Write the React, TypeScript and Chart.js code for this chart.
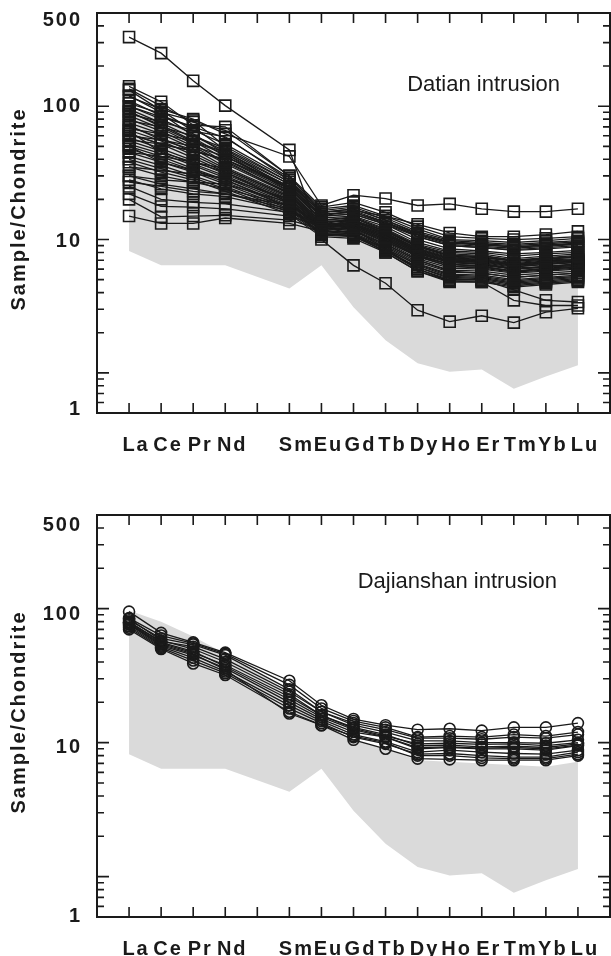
import React, { useEffect, useRef } from 'react';
import { Chart, registerables } from 'chart.js';

Chart.register(...registerables);

// ---------- categories & axis labels ----------
const ELEMENTS = ['La', 'Ce', 'Pr', 'Nd', 'Pm', 'Sm', 'Eu', 'Gd', 'Tb', 'Dy', 'Ho', 'Er', 'Tm', 'Yb', 'Lu'];
const X_LABELS = ['La', 'Ce', 'Pr', 'Nd', '', 'Sm', 'Eu', 'Gd', 'Tb', 'Dy', 'Ho', 'Er', 'Tm', 'Yb', 'Lu'];
const PLOTTED = ['La', 'Ce', 'Pr', 'Nd', 'Sm', 'Eu', 'Gd', 'Tb', 'Dy', 'Ho', 'Er', 'Tm', 'Yb', 'Lu'];
const Y_LABELS = ['500', '100', '10', '1'];
const Y_LABEL_VALUES = [500, 100, 10, 1];
const Y_MAJOR_TICKS = [1, 10, 100];
const Y_MINOR_TICKS = [0.6, 0.7, 0.8, 0.9, 2, 3, 4, 5, 6, 7, 8, 9, 20, 30, 40, 50, 60, 70, 80, 90, 200, 300, 400];
const Y_TITLE = 'Sample/Chondrite';

// ---------- grey reference field (La..Lu, no Pm) ----------
const FIELD_UPPER = [97, 80, 62, 46, 24, 14, 10.5, 9, 7.4, 7.2, 7.0, 6.8, 6.6, 7.2];
const FIELD_LOWER = [8.2, 6.4, 6.4, 6.4, 4.3, 6.4, 3.1, 1.76, 1.18, 1.02, 1.06, 0.76, 0.94, 1.14];

// ---------- Datian intrusion samples (La..Lu) ----------
const DT01 = [330, 250, 155, 101, 47, 10, 6.4, 4.7, 2.95, 2.42, 2.68, 2.38, 2.85, 3.05];
const DT02 = [118, 95, 80, 62, 42, 18, 21.5, 20.3, 18, 18.5, 17, 16.2, 16.2, 17];
const DT03 = [62, 52, 46, 40, 25, 15, 16.5, 15, 13, 11.2, 10.5, 10.5, 10.9, 11.5];
const DT04 = [15, 13.2, 13.2, 14.5, 13.2, 11.5, 12.5, 10, 7.5, 6.5, 6.3, 5.8, 6, 6.2];
const DT05 = [20, 14.8, 15, 15.2, 14, 12, 13, 10.5, 8, 6.8, 6.6, 6, 6.2, 6.4];
const DT06 = [22, 17.7, 17.5, 17, 15, 12.5, 14, 11, 8.5, 7.2, 7, 6.5, 6.8, 7];
const DT07 = [25, 20, 19, 18.5, 16, 13, 14.5, 11.5, 9, 7.6, 7.5, 7, 7.2, 7.5];
const DT08 = [30, 26, 24, 22, 18, 13, 12, 8.5, 6, 5, 5, 4.2, 3.5, 3.4];
const DT09 = [35, 30, 27, 24, 18, 12.5, 11, 8, 5.8, 4.9, 4.8, 3.5, 3.2, 3.2];
const DT10 = [141, 108, 72, 70, 30, 16, 17, 14, 11, 9.5, 9.2, 8.8, 9, 9.3];
const DT11 = [132, 93, 65, 59, 28, 15.5, 16, 13.5, 10.5, 9, 8.7, 8.3, 8.5, 8.8];
const DT12 = [120, 90, 78, 50, 27, 15, 15.5, 13, 10, 8.5, 8.2, 7.8, 8, 8.3];
const DT13 = [110, 85, 70, 47, 26, 14.5, 15, 12.5, 9.5, 8.2, 8, 7.5, 7.8, 8];
const DT14 = [100, 80, 62, 44, 25, 14, 14.8, 12, 9.2, 8, 7.8, 7.2, 7.5, 7.8];
const DT15 = [95, 75, 58, 42, 24, 14, 14.5, 11.8, 9, 7.8, 7.6, 7, 7.3, 7.6];
const DT16 = [90, 72, 55, 40, 23, 13.5, 14, 11.5, 8.8, 7.6, 7.4, 6.9, 7.1, 7.4];
const DT17 = [85, 68, 52, 38, 22.5, 13.5, 13.8, 11.2, 8.6, 7.4, 7.2, 6.7, 7, 7.2];
const DT18 = [80, 65, 50, 37, 22, 13, 13.5, 11, 8.4, 7.2, 7, 6.5, 6.8, 7];
const DT19 = [75, 62, 48, 35, 21.5, 13, 13.2, 10.8, 8.2, 7, 6.9, 6.4, 6.6, 6.9];
const DT20 = [70, 58, 45, 34, 21, 12.8, 13, 10.5, 8, 6.9, 6.8, 6.3, 6.5, 6.8];
const DT21 = [66, 55, 43, 33, 20.5, 12.5, 12.8, 10.2, 7.8, 6.7, 6.6, 6.1, 6.3, 6.6];
const DT22 = [62, 52, 41, 32, 20, 12.5, 12.5, 10, 7.6, 6.5, 6.4, 6, 6.2, 6.4];
const DT23 = [58, 48, 39, 31, 19.5, 12.2, 12.2, 9.8, 7.4, 6.3, 6.2, 5.8, 6, 6.2];
const DT24 = [55, 46, 37, 30, 19, 12, 12, 9.5, 7.2, 6.1, 6, 5.6, 5.8, 6];
const DT25 = [52, 44, 36, 29, 18.5, 11.8, 11.8, 9.3, 7, 5.9, 5.8, 5.4, 5.6, 5.8];
const DT26 = [50, 42, 34, 28, 18, 11.5, 11.5, 9, 6.8, 5.7, 5.6, 5.2, 5.4, 5.6];
const DT27 = [48, 40, 33, 27, 17.5, 11.2, 11.2, 8.8, 6.6, 5.5, 5.4, 5, 5.2, 5.4];
const DT28 = [45, 38, 32, 26, 17, 11, 11, 8.6, 6.4, 5.3, 5.2, 4.8, 5, 5.2];
const DT29 = [42, 36, 30, 25, 16.5, 11, 10.8, 8.4, 6.2, 5.1, 5, 4.6, 4.8, 5];
const DT30 = [40, 34, 29, 24, 16, 10.8, 10.5, 8.2, 6, 4.9, 4.9, 4.5, 4.7, 4.9];
const DT31 = [38, 32, 28, 23, 15.5, 10.5, 10.2, 8, 5.8, 4.8, 4.8, 4.4, 4.6, 4.8];
const DT32 = [100, 83, 70, 58, 29, 17, 18, 15, 12, 10, 9.8, 9.5, 9.8, 10.2];
const DT33 = [88, 76, 66, 52, 28, 16.5, 17.5, 14.5, 11.5, 9.8, 9.5, 9.2, 9.5, 9.8];
const DT34 = [78, 70, 60, 48, 27, 16, 17, 14, 11.2, 9.6, 9.3, 9, 9.3, 9.6];
const DT35 = [68, 62, 55, 45, 26, 16, 16.5, 13.5, 11, 9.4, 9.1, 8.8, 9.1, 9.4];
const DT36 = [60, 56, 50, 42, 25, 15.5, 16, 13.2, 10.8, 9.2, 8.9, 8.6, 8.9, 9.2];
const DT37 = [56, 52, 46, 40, 24, 15, 15.5, 13, 10.5, 9, 8.7, 8.4, 8.7, 9];
const DT38 = [105, 88, 60, 46, 24, 14, 14, 11.5, 8.8, 7.5, 7.3, 6.9, 7.1, 7.4];
const DT39 = [92, 70, 54, 44, 23, 13.6, 13.6, 11.2, 8.5, 7.3, 7.1, 6.6, 6.9, 7.1];
const DT40 = [72, 56, 47, 39, 22, 13.2, 13.2, 10.9, 8.3, 7.1, 6.9, 6.4, 6.7, 6.9];
const DT41 = [45, 42, 38, 34, 21, 13, 13, 10.6, 8.1, 6.9, 6.7, 6.2, 6.5, 6.7];
const DT42 = [35, 33, 31, 29, 20, 12.8, 12.8, 10.3, 7.9, 6.7, 6.5, 6, 6.3, 6.5];
const DT43 = [30, 28, 27, 26, 19, 12.5, 12.6, 10, 7.7, 6.5, 6.3, 5.8, 6.1, 6.3];
const DT44 = [28, 24, 22, 21, 16.5, 12, 12.2, 9.6, 7.5, 6.3, 6.1, 5.7, 5.9, 6.1];
const DT45 = [27, 25, 23, 22, 17, 12.3, 11.6, 9.2, 7, 5.8, 5.6, 5.2, 5.4, 5.6];
const DT46 = [65, 45, 38, 32, 19, 11.5, 11, 8.5, 6.5, 5.4, 5.3, 4.9, 5.1, 5.3];
const DT47 = [50, 38, 33, 28, 17.5, 11, 10.6, 8.2, 6.2, 5.2, 5.1, 4.7, 4.9, 5.1];
const DT48 = [135, 100, 76, 66, 30, 17.5, 19, 16, 12.5, 10.5, 10.2, 10, 10.2, 10.5];

const DATIAN = [
  DT01, DT02, DT03, DT04, DT05, DT06, DT07, DT08, DT09, DT10, DT11, DT12,
  DT13, DT14, DT15, DT16, DT17, DT18, DT19, DT20, DT21, DT22, DT23, DT24,
  DT25, DT26, DT27, DT28, DT29, DT30, DT31, DT32, DT33, DT34, DT35, DT36,
  DT37, DT38, DT39, DT40, DT41, DT42, DT43, DT44, DT45, DT46, DT47, DT48,
];

// ---------- Dajianshan intrusion samples (La..Lu) ----------
const DJ01 = [95, 66, 56, 47, 29, 19, 15, 13.5, 12.5, 12.7, 12.3, 13, 13, 14];
const DJ02 = [85, 63, 55, 46, 27, 18, 14.5, 13, 11, 11.2, 11, 11.5, 11.2, 12];
const DJ03 = [82, 60, 54, 45, 25, 17, 14, 12.5, 10.8, 10.8, 10.6, 11, 10.8, 11.5];
const DJ04 = [78, 55, 47, 38, 22, 16, 13, 11.5, 9.5, 9.6, 9.3, 9.4, 9.2, 9.8];
const DJ05 = [76, 53, 45, 36, 20, 15, 12, 11, 9, 9.2, 9, 9, 8.8, 9.5];
const DJ06 = [80, 56, 48, 37, 21, 15.5, 12.5, 11, 9.2, 9.3, 9.1, 9.2, 9, 9.6];
const DJ07 = [74, 52, 43, 34, 19, 14.5, 11.5, 10.2, 8.5, 8.8, 8.5, 8.3, 8.2, 8.8];
const DJ08 = [72, 51, 41, 33, 18, 14, 11, 9.8, 8.2, 8.3, 8, 7.8, 7.8, 8.5];
const DJ09 = [70, 50, 39, 32, 17, 13.5, 10.5, 9, 7.6, 7.5, 7.4, 7.4, 7.4, 8];
const DJ10 = [84, 58, 50, 40, 23, 16, 12.8, 11.2, 9.8, 9.9, 9.7, 9.8, 9.5, 10];
const DJ11 = [77, 54, 46, 35, 16.5, 13.5, 11.2, 10, 8, 8, 7.7, 7.6, 7.6, 8.2];
const DJ12 = [79, 57, 52, 42, 24, 17, 13.5, 12, 10.3, 10.3, 10, 10, 9.9, 10.5];

const DAJIANSHAN = [DJ01, DJ02, DJ03, DJ04, DJ05, DJ06, DJ07, DJ08, DJ09, DJ10, DJ11, DJ12];

// ---------- styling ----------
const INK = '#1a1a1a';
const GREY = 'rgb(218,218,218)';
const FONT = '"Liberation Sans", Arial, Helvetica, sans-serif';

const toPoints = (vals: number[]) =>
  vals.map((v, i) => ({ x: ELEMENTS.indexOf(PLOTTED[i]), y: v }));

type PanelOpts = {
  samples: number[][];
  marker: 'rect' | 'circle';
  radius: number;
  name: string;
  nameY: number;
  nameRight: number;
  padTop: number;
  padBottom: number;
  labelShift: number[];
};

function makeDecor(p: PanelOpts) {
  return {
    id: 'decor',
    afterDraw(chart: any) {
      const { ctx, chartArea: a } = chart;
      const xs = chart.scales.x;
      const ys = chart.scales.y;
      ctx.save();
      // ticks
      ctx.strokeStyle = INK;
      ctx.lineWidth = 1.6;
      ctx.beginPath();
      ELEMENTS.forEach((_e, i) => {
        const px = xs.getPixelForValue(i);
        ctx.moveTo(px, a.top);
        ctx.lineTo(px, a.top + 10);
        ctx.moveTo(px, a.bottom);
        ctx.lineTo(px, a.bottom - 10);
      });
      Y_MINOR_TICKS.forEach((v) => {
        const py = ys.getPixelForValue(v);
        ctx.moveTo(a.left, py);
        ctx.lineTo(a.left + 7, py);
        ctx.moveTo(a.right, py);
        ctx.lineTo(a.right - 7, py);
      });
      Y_MAJOR_TICKS.forEach((v) => {
        const py = ys.getPixelForValue(v);
        ctx.moveTo(a.left, py);
        ctx.lineTo(a.left + 12, py);
        ctx.moveTo(a.right, py);
        ctx.lineTo(a.right - 12, py);
      });
      ctx.stroke();
      // frame
      ctx.lineWidth = 2;
      ctx.strokeRect(a.left, a.top, a.right - a.left, a.bottom - a.top);

      // y tick labels
      ctx.fillStyle = INK;
      ctx.font = `bold 20px ${FONT}`;
      (ctx as any).letterSpacing = '2px';
      ctx.textAlign = 'right';
      ctx.textBaseline = 'middle';
      Y_LABELS.forEach((t, i) => {
        ctx.fillText(t, a.left - 15, ys.getPixelForValue(Y_LABEL_VALUES[i]) + p.labelShift[i]);
      });

      // x tick labels
      ctx.textAlign = 'center';
      X_LABELS.forEach((t, i) => {
        if (!t) return;
        ctx.fillText(t, xs.getPixelForValue(i) + 7, a.bottom + 32);
      });

      // y title
      ctx.save();
      ctx.translate(19, (a.top + a.bottom) / 2 - 4);
      ctx.rotate(-Math.PI / 2);
      ctx.textAlign = 'center';
      ctx.fillText(Y_TITLE, 0, 0);
      ctx.restore();

      // panel annotation
      (ctx as any).letterSpacing = '0px';
      ctx.font = `22px ${FONT}`;
      ctx.textAlign = 'right';
      ctx.fillText(p.name, p.nameRight, p.nameY);
      ctx.restore();
    },
  };
}

function makeConfig(p: PanelOpts): any {
  const sampleSets = p.samples.map((s) => ({
    data: toPoints(s),
    borderColor: INK,
    borderWidth: 1.3,
    pointStyle: p.marker,
    pointRadius: p.radius,
    pointBorderWidth: 1.6,
    pointBorderColor: INK,
    pointBackgroundColor: 'rgba(0,0,0,0)',
    fill: false,
    order: 1,
  }));
  return {
    type: 'line',
    data: {
      datasets: [
        {
          data: toPoints(FIELD_UPPER),
          borderWidth: 0,
          borderColor: 'rgba(0,0,0,0)',
          pointRadius: 0,
          fill: false,
          order: 100,
        },
        {
          data: toPoints(FIELD_LOWER),
          borderWidth: 0,
          borderColor: 'rgba(0,0,0,0)',
          backgroundColor: GREY,
          pointRadius: 0,
          fill: 0,
          order: 99,
        },
        ...sampleSets,
      ],
    },
    options: {
      responsive: false,
      animation: false,
      devicePixelRatio: 1,
      events: [],
      layout: { autoPadding: false, padding: { left: 97, right: 1, top: p.padTop, bottom: p.padBottom } },
      plugins: { legend: { display: false }, tooltip: { enabled: false }, title: { display: false } },
      scales: {
        x: { type: 'linear', min: -1, max: 15, display: false },
        y: { type: 'logarithmic', min: 0.5, max: 500, display: false },
      },
    },
    plugins: [makeDecor(p)],
  };
}

export default function App() {
  const topRef = useRef<HTMLCanvasElement>(null);
  const botRef = useRef<HTMLCanvasElement>(null);

  useEffect(() => {
    const c1 = new Chart(
      topRef.current as HTMLCanvasElement,
      makeConfig({
        samples: DATIAN,
        marker: 'rect',
        radius: 7.8,
        name: 'Datian intrusion',
        nameY: 85,
        nameRight: 560,
        padTop: 13,
        padBottom: 57,
        labelShift: [7, 0, 2, 37],
      })
    );
    const c2 = new Chart(
      botRef.current as HTMLCanvasElement,
      makeConfig({
        samples: DAJIANSHAN,
        marker: 'circle',
        radius: 5.5,
        name: 'Dajianshan intrusion',
        nameY: 112,
        nameRight: 557,
        padTop: 45,
        padBottom: 39,
        labelShift: [10, 6, 5, 40],
      })
    );
    return () => {
      c1.destroy();
      c2.destroy();
    };
  }, []);

  return (
    <div style={{ position: 'absolute', left: 0, top: 0, width: 611, height: 956, background: '#fff' }}>
      <canvas ref={topRef} width={611} height={470} style={{ position: 'absolute', left: 0, top: 0 }} />
      <canvas ref={botRef} width={611} height={486} style={{ position: 'absolute', left: 0, top: 470 }} />
    </div>
  );
}
